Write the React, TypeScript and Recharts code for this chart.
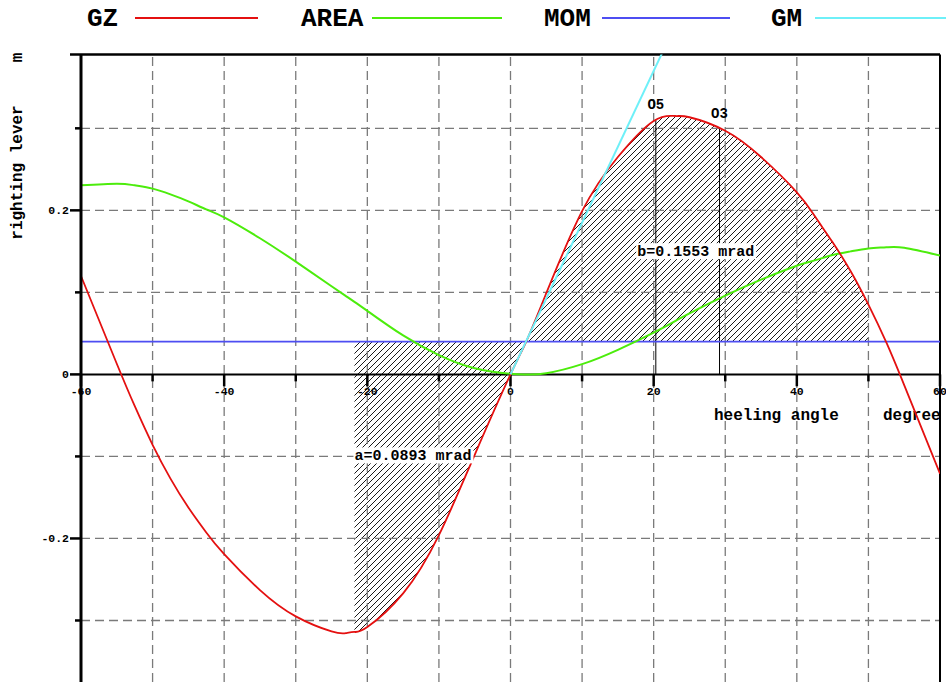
import React from "react";
import {
  Area,
  ComposedChart,
  Legend,
  Line,
  ReferenceDot,
  ReferenceLine,
  XAxis,
  YAxis,
} from "recharts";

const FONT = '"Liberation Mono", "Courier New", monospace';
const RED = "#e41010";
const GREEN = "#4cec0c";
const BLUE = "#4e4ef2";
const CYAN = "#6ef0f8";
const GRID = "#7a7a7a";

// heeling angle, degrees
const angles = [
  -60, -55, -52.5, -50, -47.5, -45, -42.5, -40, -35, -30, -25, -23, -21.8, -20, -15, -10, -5,
  0, 2.2, 5, 10, 15, 20, 23, 25, 30, 35, 40, 42.5, 45, 47.5, 50, 52.5, 55, 60,
];
// righting lever GZ, m
const gzValues = [
  0.12, 0.013, -0.0385, -0.0858, -0.127, -0.1623, -0.1927, -0.2192, -0.263, -0.295, -0.3133,
  -0.3154, -0.314, -0.308, -0.267, -0.196, -0.098, 0, 0.04, 0.099, 0.199, 0.265, 0.309,
  0.315, 0.3135, 0.297, 0.265, 0.222, 0.193, 0.161, 0.126, 0.085, 0.039, -0.013, -0.121,
];
// area under curve, m rad
const areaValues = [
  0.2305, 0.2325, 0.2305, 0.2265, 0.2195, 0.211, 0.2012, 0.1915, 0.166, 0.1375, 0.1075,
  0.0955, 0.0885, 0.0775, 0.0475, 0.0235, 0.0075, 0.0008, 0.0, 0.0015, 0.0125, 0.03, 0.051,
  0.065, 0.0745, 0.096, 0.1155, 0.1325, 0.139, 0.1455, 0.15, 0.1535, 0.155, 0.1545, 0.145,
];
// heeling moment lever
const momAngles = [-60, 60];
const momValues = [0.04, 0.04];
// GM line, drawn to 1 rad
const gmAngles = [0, 57.3];
const gmValues = [0, 1.06];

// hatched areas: a (below MOM) and b (above MOM)
const hatchFrom = -21.8;
const hatchCross = 2.2;
const hatchTo = 50;

const xTicks = [-60, -50, -40, -30, -20, -10, 0, 10, 20, 30, 40, 50, 60];
const xLabelTicks = [-60, -40, -20, 0, 20, 40, 60];
const gridX = [-50, -40, -30, -20, -10, 0, 10, 20, 30, 40, 50];
const gridY = [-0.3, -0.2, -0.1, 0.1, 0.2, 0.3];
const yTicks = [-0.3, -0.2, -0.1, 0, 0.1, 0.2, 0.3, 0.39];
const yLabelTicks = [-0.2, 0, 0.2, 0.39];
const yTickText: Record<string, string> = { "-0.2": "-0.2", "0": "0", "0.2": "0.2" };

const markers = [
  { name: "O5", angle: 20.3, gz: 0.311 },
  { name: "O3", angle: 29.2, gz: 0.3 },
];
const areaNotes = [
  { text: "a=0.0893 mrad", angle: -21.8, value: -0.1 },
  { text: "b=0.1553 mrad", angle: 17.7, value: 0.149 },
];

const legendItems = [
  { name: "GZ", color: RED, left: 87, lineLeft: 135, lineWidth: 123 },
  { name: "AREA", color: GREEN, left: 301, lineLeft: 372, lineWidth: 130 },
  { name: "MOM", color: BLUE, left: 544, lineLeft: 602, lineWidth: 128 },
  { name: "GM", color: CYAN, left: 771, lineLeft: 815, lineWidth: 131 },
];

const momLevel = momValues[0];
const rows = angles.map((a, i) => {
  const g = gzValues[i];
  return {
    angle: a,
    gz: g,
    area: areaValues[i],
    hatchA: a >= hatchFrom && a <= hatchCross ? [g, momLevel] : null,
    hatchB: a >= hatchCross && a <= hatchTo ? [momLevel, g] : null,
  };
});
const momRows = momAngles.map((a, i) => ({ angle: a, mom: momValues[i] }));
const gmRows = gmAngles.map((a, i) => ({ angle: a, gm: gmValues[i] }));

function YTick(props: any) {
  const { x, y, payload } = props;
  const v = payload.value;
  const major = yLabelTicks.includes(v);
  const label = yTickText[String(v)];
  return (
    <g>
      <line x1={x - (major ? 11 : 6)} x2={x} y1={y} y2={y} stroke="#000" strokeWidth={2.5} />
      {label && (
        <text
          x={x - 12}
          y={y + 4}
          textAnchor="end"
          fontFamily={FONT}
          fontWeight="bold"
          fontSize={11.5}
          fill="#000"
        >
          {label}
        </text>
      )}
    </g>
  );
}

function YTitle(props: any) {
  const vb = props.viewBox || { x: 0, y: 54 };
  const cx = vb.x + 18;
  return (
    <g fontFamily={FONT} fontWeight="bold" fontSize={16} fill="#000">
      <text
        x={cx}
        y={vb.y + 118}
        textAnchor="middle"
        dominantBaseline="central"
        transform={`rotate(-90 ${cx} ${vb.y + 118})`}
      >
        righting lever
      </text>
      <text
        x={cx}
        y={vb.y + 3}
        textAnchor="middle"
        dominantBaseline="central"
        transform={`rotate(-90 ${cx} ${vb.y + 3})`}
      >
        m
      </text>
    </g>
  );
}

function XTickText(props: any) {
  const { viewBox, text } = props;
  if (!viewBox) return null;
  return (
    <text
      x={viewBox.x}
      y={viewBox.y + 21}
      textAnchor="middle"
      fontFamily={FONT}
      fontWeight="bold"
      fontSize={11.5}
      fill="#000"
    >
      {text}
    </text>
  );
}

function XTitle(props: any) {
  const { viewBox } = props;
  if (!viewBox) return null;
  const y = viewBox.y + 46;
  return (
    <g fontFamily={FONT} fontWeight="bold" fontSize={16} fill="#000">
      <text x={viewBox.x + 633} y={y}>
        heeling angle
      </text>
      <text x={viewBox.x + 802} y={y}>
        degree
      </text>
    </g>
  );
}

function MarkerText(props: any) {
  const { viewBox, text } = props;
  if (!viewBox) return null;
  return (
    <text
      x={viewBox.x}
      y={viewBox.y - 10}
      textAnchor="middle"
      fontFamily={FONT}
      fontWeight="bold"
      fontSize={14}
      fill="#000"
    >
      {text}
    </text>
  );
}

function NoteShape(props: any) {
  const { cx, cy, text } = props;
  const w = text.length * 9 + 3;
  return (
    <g>
      <rect x={cx - 1} y={cy - 9} width={w} height={16} fill="#fff" />
      <text x={cx} y={cy + 4} fontFamily={FONT} fontWeight="bold" fontSize={15} fill="#000">
        {text}
      </text>
    </g>
  );
}

function LegendBox() {
  return (
    <div style={{ position: "relative", width: 946, height: 40 }}>
      {legendItems.map((it) => (
        <React.Fragment key={it.name}>
          <span
            style={{
              position: "absolute",
              left: it.left,
              top: 3,
              fontFamily: FONT,
              fontWeight: "bold",
              fontSize: 26,
              lineHeight: "32px",
              color: "#000",
            }}
          >
            {it.name}
          </span>
          <div
            style={{
              position: "absolute",
              left: it.lineLeft,
              top: 17,
              width: it.lineWidth,
              height: 2,
              background: it.color,
            }}
          />
        </React.Fragment>
      ))}
    </div>
  );
}

export default function App() {
  return (
    <div
      style={{
        position: "absolute",
        left: 0,
        top: 0,
        width: 946,
        height: 682,
        background: "#fff",
        overflow: "hidden",
      }}
    >
      <ComposedChart
        width={946}
        height={682}
        data={rows}
        margin={{ top: 14.5, right: 6, bottom: 0, left: 0 }}
      >
        <defs>
          <pattern id="hatch" patternUnits="userSpaceOnUse" width="6" height="6">
            <path d="M-1,1 L1,-1 M0,6 L6,0 M5,7 L7,5" stroke="#000" strokeWidth={0.9} />
          </pattern>
        </defs>
        <Legend
          verticalAlign="top"
          align="left"
          wrapperStyle={{ top: 0, left: 0 }}
          content={() => <LegendBox />}
        />
        <XAxis
          type="number"
          dataKey="angle"
          domain={[-60, 60]}
          allowDataOverflow
          ticks={xTicks}
          tick={false}
          tickLine={false}
          axisLine={false}
          height={0}
        />
        <YAxis
          type="number"
          domain={[-0.375, 0.39]}
          allowDataOverflow
          ticks={yTicks}
          interval={0}
          width={81}
          tickSize={0}
          tickMargin={0}
          tickLine={false}
          axisLine={{ stroke: "#000", strokeWidth: 3 }}
          tick={<YTick />}
          label={<YTitle />}
        />
        {gridX.map((v) => (
          <ReferenceLine
            key={"gx" + v}
            x={v}
            stroke={GRID}
            strokeWidth={1.3}
            strokeDasharray="9 5"
          />
        ))}
        {gridY.map((v) => (
          <ReferenceLine
            key={"gy" + v}
            y={v}
            stroke={GRID}
            strokeWidth={1.3}
            strokeDasharray="9 5"
          />
        ))}
        <ReferenceLine y={0.39} stroke="#000" strokeWidth={2.5} />
        <ReferenceLine x={60} stroke="#000" strokeWidth={2} />
        <ReferenceLine y={0} stroke="#000" strokeWidth={2} label={<XTitle />} />
        {xTicks.map((v) => (
          <ReferenceLine
            key={"xt" + v}
            segment={[
              { x: v, y: 0 },
              { x: v, y: xLabelTicks.includes(v) ? -0.0145 : -0.0085 },
            ]}
            stroke="#000"
            strokeWidth={2.5}
            ifOverflow="visible"
            label={xLabelTicks.includes(v) ? <XTickText text={String(v)} /> : undefined}
          />
        ))}
        {markers.map((m) => (
          <ReferenceLine
            key={m.name}
            segment={[
              { x: m.angle, y: 0 },
              { x: m.angle, y: m.gz },
            ]}
            stroke="#000"
            strokeWidth={1}
            label={<MarkerText text={m.name} />}
          />
        ))}
        <Area
          dataKey="hatchA"
          type="natural"
          fill="url(#hatch)"
          fillOpacity={1}
          stroke="none"
          isAnimationActive={false}
          activeDot={false}
        />
        <Area
          dataKey="hatchB"
          type="natural"
          fill="url(#hatch)"
          fillOpacity={1}
          stroke="none"
          isAnimationActive={false}
          activeDot={false}
        />
        <Line
          data={momRows}
          dataKey="mom"
          stroke={BLUE}
          strokeWidth={1.6}
          dot={false}
          isAnimationActive={false}
        />
        <Line
          dataKey="area"
          type="natural"
          stroke={GREEN}
          strokeWidth={2}
          dot={false}
          isAnimationActive={false}
        />
        <Line
          dataKey="gz"
          type="natural"
          stroke={RED}
          strokeWidth={1.8}
          dot={false}
          isAnimationActive={false}
        />
        <Line
          data={gmRows}
          dataKey="gm"
          stroke={CYAN}
          strokeWidth={2}
          dot={false}
          isAnimationActive={false}
        />
        {areaNotes.map((n) => (
          <ReferenceDot
            key={n.text}
            x={n.angle}
            y={n.value}
            r={0}
            shape={(p: any) => <NoteShape {...p} text={n.text} />}
          />
        ))}
      </ComposedChart>
    </div>
  );
}
